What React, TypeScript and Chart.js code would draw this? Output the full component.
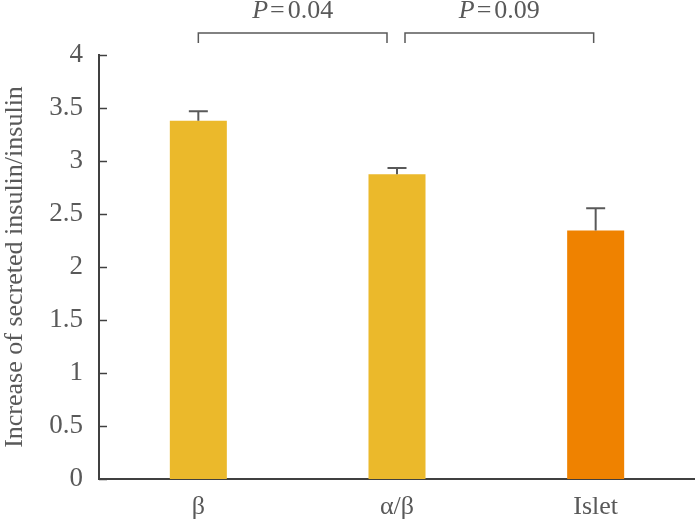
import React, { useEffect, useRef } from "react";
import { Chart, registerables } from "chart.js";

Chart.register(...registerables);

const categories = ["β", "α/β", "Islet"];
const means = [3.38, 2.875, 2.345];
const errors = [0.09, 0.06, 0.21];
const barColors = ["#EBB92B", "#EBB92B", "#EF8200"];
const pLabels = [
  { from: 0, to: 1, value: "0.04" },
  { from: 1, to: 2, value: "0.09" },
];

const FONT = "'Liberation Serif', 'Times New Roman', serif";
const TEXT = "#595959";

const overlayPlugin = {
  id: "overlay",
  afterDatasetsDraw(chart: any) {
    const ctx = chart.ctx;
    const x = chart.scales.x;
    const y = chart.scales.y;
    ctx.save();
    // inward y ticks
    ctx.strokeStyle = "#404040";
    ctx.lineWidth = 1.5;
    y.ticks.forEach((t: any) => {
      const py = Math.round(y.getPixelForValue(t.value)) + 0.5;
      ctx.beginPath();
      ctx.moveTo(x.left, py);
      ctx.lineTo(x.left + 8, py);
      ctx.stroke();
    });
    // error bars
    ctx.strokeStyle = "#595959";
    ctx.lineWidth = 2;
    means.forEach((m, i) => {
      const px = x.getPixelForValue(i);
      const y0 = y.getPixelForValue(m);
      const y1 = y.getPixelForValue(m + errors[i]);
      ctx.beginPath();
      ctx.moveTo(px, y0);
      ctx.lineTo(px, y1);
      ctx.moveTo(px - 9.5, y1);
      ctx.lineTo(px + 9.5, y1);
      ctx.stroke();
    });
    // brackets
    ctx.lineWidth = 1.5;
    ctx.strokeStyle = "#595959";
    const top = y.getPixelForValue(4);
    const by = top - 22;
    const bh = 10;
    pLabels.forEach((p, k) => {
      const xa = x.getPixelForValue(p.from) + (k === 0 ? 0 : 8);
      const xb = x.getPixelForValue(p.to) - (k === 0 ? 10 : 2);
      ctx.beginPath();
      ctx.moveTo(xa, by + bh);
      ctx.lineTo(xa, by);
      ctx.lineTo(xb, by);
      ctx.lineTo(xb, by + bh);
      ctx.stroke();
      const cx = (xa + xb) / 2;
      ctx.fillStyle = TEXT;
      ctx.textBaseline = "alphabetic";
      ctx.textAlign = "left";
      const italic = `italic 26px ${FONT}`;
      const normal = `26px ${FONT}`;
      ctx.font = italic;
      const wP = ctx.measureText("P").width;
      ctx.font = normal;
      const wE = ctx.measureText("=").width;
      const wV = ctx.measureText(p.value).width;
      const g1 = 2;
      const g2 = 3;
      const total = wP + g1 + wE + g2 + wV;
      const start = cx - total / 2;
      ctx.font = italic;
      ctx.fillText("P", start, 18);
      ctx.font = normal;
      ctx.fillText("=", start + wP + g1, 18);
      ctx.fillText(p.value, start + wP + g1 + wE + g2, 18);
    });
    ctx.restore();
  },
};

export default function App() {
  const ref = useRef<HTMLCanvasElement>(null);
  useEffect(() => {
    document.body.style.margin = "0";
    const chart = new Chart(ref.current!, {
      type: "bar",
      data: {
        labels: categories,
        datasets: [
          {
            data: means,
            backgroundColor: barColors,
            categoryPercentage: 1,
            barPercentage: 0.287,
          },
        ],
      },
      options: {
        animation: false,
        responsive: false,
        layout: { padding: { top: 55, left: 0, right: -2, bottom: 0 } },
        plugins: {
          legend: { display: false },
          tooltip: { enabled: false },
        },
        scales: {
          x: {
            grid: { display: false, drawTicks: false },
            border: { display: true, color: "#404040", width: 2 },
            ticks: {
              color: TEXT,
              font: { family: FONT, size: 26 },
              padding: 13,
            },
            afterFit(scale: any) {
              scale.height = 45;
            },
          },
          y: {
            min: 0,
            max: 4,
            ticks: {
              stepSize: 0.5,
              color: TEXT,
              font: { family: FONT, size: 27 },
              padding: 16,
              callback: (v: any) => String(v),
            },
            grid: { display: false, drawTicks: false },
            border: { display: true, color: "#404040", width: 2 },
            title: {
              display: true,
              text: "Increase of secreted insulin/insulin",
              color: TEXT,
              font: { family: FONT, size: 26 },
              padding: { top: 0, bottom: 0 },
            },
            afterFit(scale: any) {
              scale.width = 99;
            },
          },
        },
      },
      plugins: [overlayPlugin],
    });
    return () => chart.destroy();
  }, []);
  return <canvas ref={ref} width={695} height={524} style={{ display: "block" }} />;
}
